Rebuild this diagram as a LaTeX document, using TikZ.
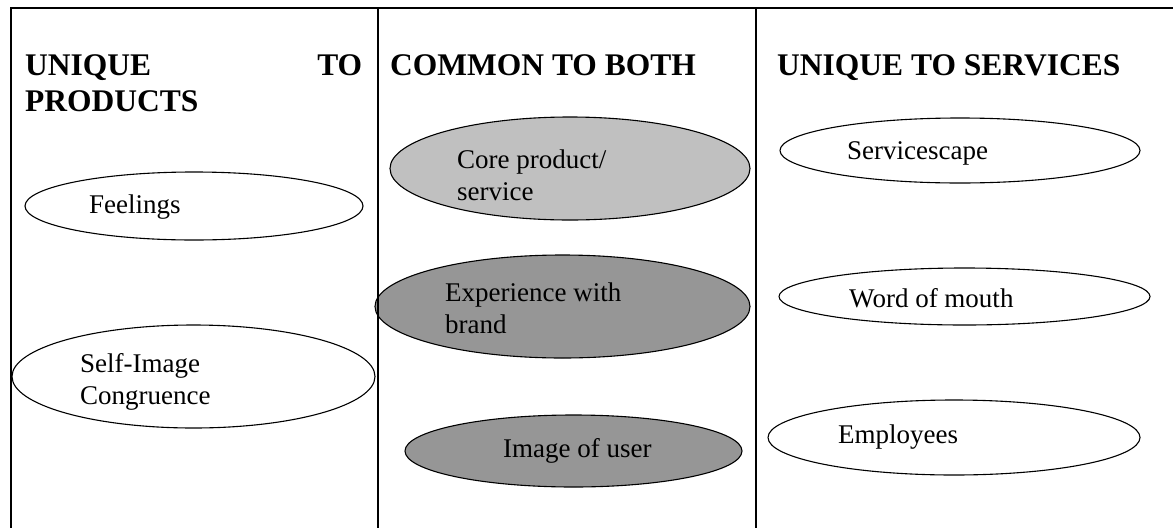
\documentclass[tikz,border=0pt]{standalone}
\usepackage{fontspec}
\setmainfont{Liberation Serif}
\usepackage{tikz}
\usetikzlibrary{shapes.geometric}
\definecolor{coregray}{RGB}{192,192,192}
\definecolor{darkoval}{RGB}{150,150,150}
\newcommand\bodyfont{\fontsize{27}{32}\selectfont}
\newcommand\headfont{\fontsize{31.5}{36}\selectfont\bfseries}
\begin{document}
\begin{tikzpicture}[x=1pt, y=-1pt,
    oval/.style={ellipse, draw, line width=1.1pt, inner sep=0pt},
    lbl/.style={font=\bodyfont, inner sep=0pt, align=left},
    hdr/.style={font=\headfont, inner sep=0pt}]
    \useasboundingbox (0,0) rectangle (1173,528);
% left column: unique to products
    \node[hdr, anchor=north west, text width=337pt, align=left] (hprod) at (25,54) {UNIQUE\hfill TO\\PRODUCTS};
    \node[oval, minimum width=338pt, minimum height=68pt] (feel) at (194,206) {};
    \node[lbl, anchor=base west] (feeltxt) at (89,213) {Feelings};
    \node[oval, minimum width=363pt, minimum height=103pt] (self) at (193.5,376.5) {};
    \node[lbl, anchor=north west] (selftxt) at (80,353) {Self-Image\\Congruence};
% middle column: common to both
    \node[hdr, anchor=base west] (hboth) at (390,75) {COMMON TO BOTH};
    \node[oval, fill=coregray, minimum width=360pt, minimum height=103pt] (core) at (570,168.5) {};
    \node[lbl, anchor=north west] (coretxt) at (457,150) {Core product/\\service};
    \node[oval, fill=darkoval, minimum width=375pt, minimum height=103pt] (brand) at (562.5,306.5) {};
    \node[lbl, anchor=north west] (brandtxt) at (445,283) {Experience with\\brand};
    \node[oval, fill=darkoval, minimum width=337pt, minimum height=72pt] (user) at (573.5,451) {};
    \node[lbl, anchor=base west] (usertxt) at (503,457) {Image of user};
% right column: unique to services
    \node[hdr, anchor=base west] (hserv) at (777,75) {UNIQUE TO SERVICES};
    \node[oval, minimum width=360pt, minimum height=65pt] (scape) at (960,150.5) {};
    \node[lbl, anchor=base west] (scapetxt) at (847,159) {Servicescape};
    \node[oval, minimum width=371pt, minimum height=57pt] (wom) at (964.5,296.5) {};
    \node[lbl, anchor=base west] (womtxt) at (849,307) {Word of mouth};
    \node[oval, minimum width=372pt, minimum height=75pt] (staff) at (954,437.5) {};
    \node[lbl, anchor=base west] (stafftxt) at (838,443) {Employees};
% table rules
    \draw[line width=2.6pt] (1173,8) -- (11,8) -- (11,528);
    \draw[line width=2.6pt] (378,8) -- (378,528);
    \draw[line width=2.6pt] (756,8) -- (756,528);
\end{tikzpicture}
\end{document}
